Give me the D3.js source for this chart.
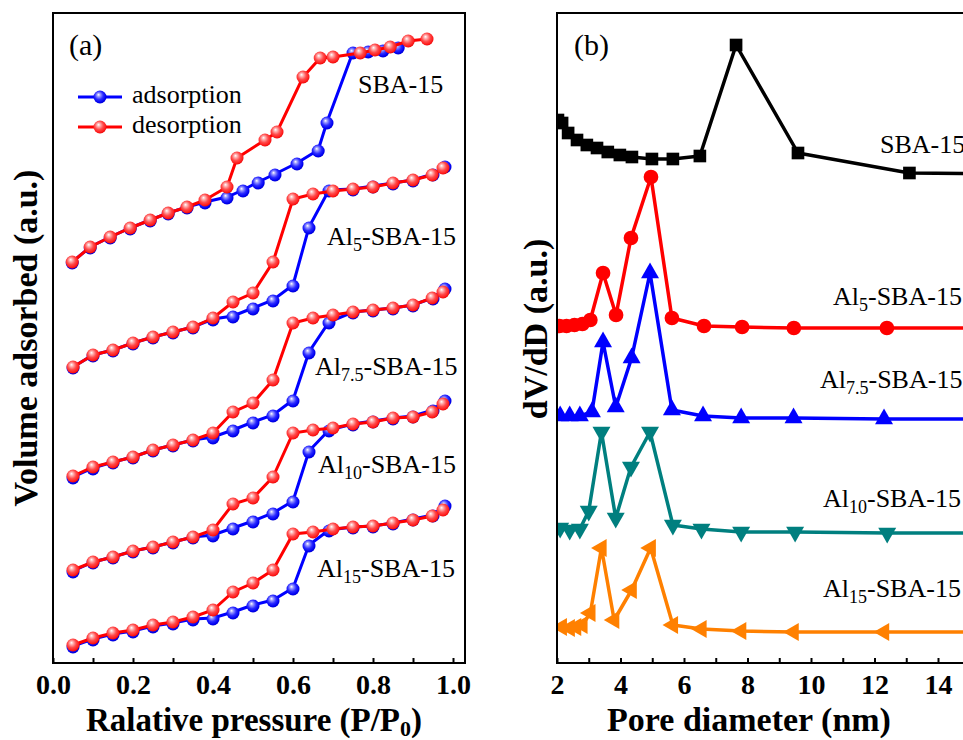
<!DOCTYPE html>
<html><head><meta charset="utf-8">
<script src="https://cdn.jsdelivr.net/npm/d3@7"></script>
<style>body{margin:0;background:#fff}svg{display:block}text{font-family:"Liberation Serif","Times New Roman",serif}</style>
</head><body>
<script>
// ---------- Panel (a): N2 isotherms (Volume adsorbed, a.u.) ----------
const pAdsAl = [0.05,0.10,0.15,0.20,0.25,0.30,0.35,0.40,0.45,0.50,0.55,0.60,0.64,0.69,0.75,0.80,0.85,0.90,0.95,0.98];
const pDesAl = [0.975,0.948,0.90,0.85,0.80,0.75,0.70,0.65,0.60,0.55,0.50,0.45,0.40,0.35,0.30,0.25,0.20,0.15,0.10,0.05];
const pAdsSBA = [0.048,0.093,0.143,0.193,0.243,0.288,0.335,0.38,0.435,0.475,0.513,0.555,0.61,0.663,0.685,0.75,0.788,0.825,0.863];
const pDesSBA = [0.935,0.888,0.843,0.805,0.768,0.70,0.668,0.625,0.56,0.53,0.46,0.435,0.38,0.335,0.288,0.243,0.193,0.143,0.093,0.048];
const adsSBA = [401,416,426,435,443,450,456,461,466,473,481,489,500,513,541,611,612,613,616];
const desSBA = [624,622,616,613,610,606,605,586,531,523,505,476,463,456,450,443,435,426,416,401];
const adsAl5 = [296,308,313,320,326,331,336,344,347,355,363,378,436,473,474,477,480,483,489,497];
const desAl5 = [495,488,483,480,476,474,472,469,464,401,370,361,345,336,331,326,320,313,308,296];
const adsAl75 = [186,195,201,206,213,218,223,226,233,241,248,263,311,341,351,353,355,358,365,375];
const desAl75 = [371,365,358,355,353,351,348,345,340,283,260,251,230,223,218,213,206,201,196,187];
const adsAl10 = [92,101,106,112,116,121,126,128,135,142,150,162,212,233,239,242,245,247,253,263];
const desAl10 = [259,251,246,245,241,239,235,233,230,186,165,159,133,126,121,116,112,106,101,93];
const adsAl15 = [17,24,29,32,37,40,44,45,51,58,63,75,118,133,136,137,140,144,148,158];
const desAl15 = [153,147,143,140,137,136,134,131,129,93,80,71,53,46,41,38,33,30,25,18];
const xTicksA = [0,0.1,0.2,0.3,0.4,0.5,0.6,0.7,0.8,0.9,1.0];

// ---------- Panel (b): pore size distribution (dV/dD, a.u.) ----------
const dSBA = [2.03,2.16,2.35,2.63,2.94,3.26,3.6,3.98,4.36,4.99,5.65,6.5,7.64,9.59,13.1,16.8];
const vSBA = [543,540,530,523,518,515,511,508,506,504,504,507,618,510,490,489];
const dAl5 = [2.08,2.3,2.55,2.8,3.05,3.45,3.86,4.33,4.96,5.62,6.63,7.83,9.46,12.39,16.8];
const vAl5 = [337,337,338,339,343,390,348,425,486,345,337,336,335,335,335];
const dAl75 = [2.1,2.4,2.72,3.1,3.45,3.85,4.35,4.93,5.62,6.6,7.8,9.45,12.3,16.8];
const vAl75 = [247,247,247,251,321,256,305,390,253,247,245,245,244,244];
const dAl10 = [2.1,2.4,2.72,3.0,3.4,3.85,4.33,4.93,5.65,6.55,7.8,9.5,12.4,16.8];
const vAl10 = [135,133,134,152,231,145,196,231,138,134,131,131,130,130];
const dAl15 = [2.15,2.4,2.6,2.8,3.05,3.4,3.8,4.35,4.95,5.65,6.55,7.8,9.45,12.3,16.8];
const vAl15 = [36,35,36,38,50,115,43,73,115,38,34,32,31,31,31];
const xTicksB = [2,3,4,5,6,7,8,9,10,11,12,13,14,15];

const W = 963, H = 740;
const svg = d3.select("body").append("svg").attr("width", W).attr("height", H);
const defs = svg.append("defs");
function ball(id, c0, c1, c2, c3){
  const g = defs.append("radialGradient").attr("id", id).attr("cx","45%").attr("cy","42%").attr("r","60%").attr("fx","38%").attr("fy","32%");
  g.append("stop").attr("offset","0%").attr("stop-color","#ffffff");
  g.append("stop").attr("offset","22%").attr("stop-color",c0);
  g.append("stop").attr("offset","55%").attr("stop-color",c1);
  g.append("stop").attr("offset","85%").attr("stop-color",c2);
  g.append("stop").attr("offset","100%").attr("stop-color",c3);
}
ball("gBlue", "#9a9aff", "#2a2aff", "#0000f0", "#0000c8");
ball("gRed", "#ffb0b0", "#ff4a4a", "#ff1a1a", "#e00000");

function styleAxis(ax){
  ax.select(".domain").remove();
  ax.selectAll("line").attr("stroke","#000").attr("stroke-width",2);
  ax.selectAll(".tick text").filter(function(){ return this.textContent === ""; }).remove();
  ax.selectAll(".tick text").attr("font-size",28).attr("font-weight","bold").attr("fill","#000").style("font-family","Liberation Serif");
}

// ---------- Panel (a) ----------
const xA = d3.scaleLinear().domain([0, 1.03]).range([53, 465]);
const yA = d3.scaleLinear().domain([0, 650]).range([663, 13]);
const gA = svg.append("g");
const lineA = d3.line().x(d => xA(d[0])).y(d => yA(d[1]));
const isotherms = [
  {pa: pAdsSBA, a: adsSBA, pd: pDesSBA, d: desSBA},
  {pa: pAdsAl, a: adsAl5, pd: pDesAl, d: desAl5},
  {pa: pAdsAl, a: adsAl75, pd: pDesAl, d: desAl75},
  {pa: pAdsAl, a: adsAl10, pd: pDesAl, d: desAl10},
  {pa: pAdsAl, a: adsAl15, pd: pDesAl, d: desAl15}
];
isotherms.forEach(s => {
  const ads = s.pa.map((p, i) => [p, s.a[i]]);
  const des = s.pd.map((p, i) => [p, s.d[i]]);
  gA.append("path").attr("d", lineA(ads)).attr("fill","none").attr("stroke","#0000ff").attr("stroke-width",3);
  gA.selectAll(null).data(ads).enter().append("circle")
    .attr("cx", d => xA(d[0])).attr("cy", d => yA(d[1]) + 1).attr("r", 6.5).attr("fill","url(#gBlue)");
  gA.append("path").attr("d", lineA(des)).attr("fill","none").attr("stroke","#ff0000").attr("stroke-width",3);
  gA.selectAll(null).data(des).enter().append("circle")
    .attr("cx", d => xA(d[0])).attr("cy", d => yA(d[1])).attr("r", 6.5).attr("fill","url(#gRed)");
});
gA.append("rect").attr("x",53).attr("y",13).attr("width",412).attr("height",650).attr("fill","none").attr("stroke","#000").attr("stroke-width",2);
const axA = gA.append("g").attr("transform","translate(0,663)")
  .call(d3.axisBottom(xA).tickValues(xTicksA).tickSizeInner(-5).tickSizeOuter(0).tickPadding(11)
    .tickFormat(d => (Math.round(d*10) % 2 === 0) ? d.toFixed(1) : ""));
styleAxis(axA);
[["adsorption","#0000ff","url(#gBlue)",97],["desorption","#ff0000","url(#gRed)",127]].forEach(l => {
  gA.append("line").attr("x1",78).attr("x2",122).attr("y1",l[3]).attr("y2",l[3]).attr("stroke",l[1]).attr("stroke-width",3);
  gA.append("circle").attr("cx",100).attr("cy",l[3]).attr("r",6.5).attr("fill",l[2]);
  gA.append("text").attr("x",132).attr("y",l[3]+6).attr("font-size",26).text(l[0]);
});
gA.append("text").attr("x",69).attr("y",55).attr("font-size",30).text("(a)");
function sampleLabel(g, x, y, sub){
  const t = g.append("text").attr("x", x).attr("y", y).attr("font-size", 26).attr("fill","#000");
  if (sub === null) { t.text("SBA-15"); return; }
  t.append("tspan").text("Al");
  t.append("tspan").attr("font-size",18).attr("dy",6).text(sub);
  t.append("tspan").attr("dy",-6).text("-SBA-15");
}
sampleLabel(gA, 358, 93, null);
sampleLabel(gA, 327, 245, "5");
sampleLabel(gA, 315, 375, "7.5");
sampleLabel(gA, 318, 473, "10");
sampleLabel(gA, 317, 577, "15");
const tA = svg.append("text").attr("x",254).attr("y",731).attr("text-anchor","middle").attr("font-size",33).attr("font-weight","bold");
tA.append("tspan").text("Ralative pressure (P/P");
tA.append("tspan").attr("font-size",22).attr("dy",5).text("0");
tA.append("tspan").attr("dy",-5).text(")");
svg.append("text").attr("transform","translate(37,338) rotate(-90)").attr("text-anchor","middle")
  .attr("font-size",34).attr("font-weight","bold").text("Volume adsorbed (a.u.)");

// ---------- Panel (b) ----------
const xB = d3.scaleLinear().domain([2, 16]).range([557, 1001.5]);
const yB = d3.scaleLinear().domain([0, 650]).range([663, 13]);
defs.append("clipPath").attr("id","clipB").append("rect").attr("x",557).attr("y",13).attr("width",445).attr("height",650);
const gB = svg.append("g");
const gBc = gB.append("g").attr("clip-path","url(#clipB)");
const lineB = d3.line().x(d => xB(d[0])).y(d => yB(d[1]));
const psd = [
  {d: dSBA, v: vSBA, c: "#000000", sym: d3.symbolSquare, size: 160, rot: 0},
  {d: dAl5, v: vAl5, c: "#ff0000", sym: d3.symbolCircle, size: 170, rot: 0},
  {d: dAl75, v: vAl75, c: "#0000ff", sym: d3.symbolTriangle, size: 140, rot: 0},
  {d: dAl10, v: vAl10, c: "#007f7f", sym: d3.symbolTriangle, size: 140, rot: 180},
  {d: dAl15, v: vAl15, c: "#ff8000", sym: d3.symbolTriangle, size: 140, rot: -90}
];
psd.forEach(s => {
  const pts = s.d.map((x, i) => [x, s.v[i]]);
  gBc.append("path").attr("d", lineB(pts)).attr("fill","none").attr("stroke", s.c).attr("stroke-width",3.5).attr("stroke-linejoin","round");
  gBc.selectAll(null).data(pts).enter().append("path")
    .attr("d", d3.symbol().type(s.sym).size(s.size))
    .attr("transform", d => `translate(${xB(d[0])},${yB(d[1])}) rotate(${s.rot})`)
    .attr("fill", s.c);
});
gB.append("rect").attr("x",557).attr("y",13).attr("width",444.5).attr("height",650).attr("fill","none").attr("stroke","#000").attr("stroke-width",2);
const axB = gB.append("g").attr("transform","translate(0,663)")
  .call(d3.axisBottom(xB).tickValues(xTicksB).tickSizeInner(-5).tickSizeOuter(0).tickPadding(11)
    .tickFormat(d => d % 2 === 0 ? String(d) : ""));
styleAxis(axB);
gB.append("text").attr("x",574).attr("y",55).attr("font-size",30).text("(b)");
sampleLabel(gB, 880, 153, null);
sampleLabel(gB, 833, 305, "5");
sampleLabel(gB, 820, 388, "7.5");
sampleLabel(gB, 823, 507, "10");
sampleLabel(gB, 823, 597, "15");
svg.append("text").attr("x",749).attr("y",731).attr("text-anchor","middle").attr("font-size",34).attr("font-weight","bold").text("Pore diameter (nm)");
svg.append("text").attr("transform","translate(547,329) rotate(-90)").attr("text-anchor","middle")
  .attr("font-size",34).attr("font-weight","bold").text("dV/dD (a.u.)");
</script>
</body></html>
